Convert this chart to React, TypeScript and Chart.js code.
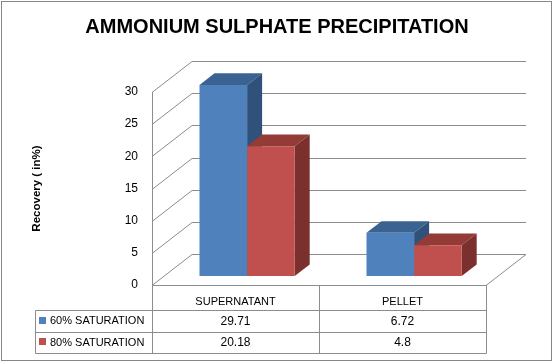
import React, { useEffect, useRef } from 'react';
import { Chart, registerables } from 'chart.js';

Chart.register(...registerables);

// ---- data ----
const categories = ['SUPERNATANT', 'PELLET'];
const seriesNames = ['60% SATURATION', '80% SATURATION'];
const saturation60 = [29.71, 6.72];
const saturation80 = [20.18, 4.8];
const valueLabels60 = ['29.71', '6.72'];
const valueLabels80 = ['20.18', '4.8'];
const yMin = 0;
const yMax = 30;
const yStep = 5;
const chartTitle = 'AMMONIUM SULPHATE PRECIPITATION';
const yAxisTitle = 'Recovery ( in%)';

// ---- style ----
const FRONT = ['#4F81BD', '#C0504D'];
const TOP = ['#3A6392', '#943B38'];
const SIDE = ['#30527A', '#7B302E'];
const GRID = '#8C8C8C';
const FONT = "'Liberation Sans', Arial, sans-serif";
const DX = 40; // depth of the plot (x)
const DY = -31; // depth of the plot (y)
const BAR_OFF = 0.29;
const BAR_DEPTH = 0.375;
const HEADER_H = 25;
const ROW_H = 21.5;
const LEGEND_LEFT = 35;

const threeD = {
  id: 'threeD',
  beforeDraw(chart: any) {
    const { ctx, width, height } = chart;
    ctx.save();
    ctx.fillStyle = '#fff';
    ctx.fillRect(0, 0, width, height);
    ctx.restore();
  },
  beforeDatasetsDraw(chart: any) {
    const { ctx, chartArea, scales } = chart;
    const { left, right, bottom } = chartArea;
    const y = scales.y;
    ctx.save();
    ctx.strokeStyle = GRID;
    ctx.lineWidth = 1;
    y.ticks.forEach((t: any) => {
      const py = Math.round(y.getPixelForValue(t.value)) + 0.5;
      ctx.beginPath();
      ctx.moveTo(left, py);
      ctx.lineTo(left + DX, py + DY);
      ctx.lineTo(right + DX, py + DY);
      ctx.stroke();
    });
    ctx.beginPath();
    ctx.moveTo(right, Math.round(bottom) + 0.5);
    ctx.lineTo(right + DX, Math.round(bottom) + 0.5 + DY);
    ctx.stroke();
    ctx.restore();

    ctx.save();
    ctx.translate(DX * BAR_OFF, DY * BAR_OFF);
    const ddx = DX * BAR_DEPTH;
    const ddy = DY * BAR_DEPTH;
    const metas = chart.data.datasets.map((_: any, i: number) => chart.getDatasetMeta(i));
    for (let c = 0; c < categories.length; c++) {
      metas.forEach((meta: any, d: number) => {
        const el = meta.data[c];
        const l = el.x - el.width / 2;
        const r = el.x + el.width / 2;
        const ty = el.y;
        const base = el.base;
        ctx.fillStyle = TOP[d];
        ctx.beginPath();
        ctx.moveTo(l, ty);
        ctx.lineTo(l + ddx, ty + ddy);
        ctx.lineTo(r + ddx, ty + ddy);
        ctx.lineTo(r, ty);
        ctx.closePath();
        ctx.fill();
        ctx.fillStyle = SIDE[d];
        ctx.beginPath();
        ctx.moveTo(r, ty);
        ctx.lineTo(r + ddx, ty + ddy);
        ctx.lineTo(r + ddx, base + ddy);
        ctx.lineTo(r, base);
        ctx.closePath();
        ctx.fill();
      });
    }
  },
  afterDatasetsDraw(chart: any) {
    chart.ctx.restore();
  },
  afterDraw(chart: any) {
    const { ctx, chartArea, scales } = chart;
    const { left, right, bottom } = chartArea;
    const x = scales.x;
    const r1 = bottom + HEADER_H;
    const rows = [r1, r1 + ROW_H, r1 + 2 * ROW_H];
    const bounds = [left];
    for (let i = 0; i < categories.length - 1; i++) {
      bounds.push((x.getPixelForValue(i) + x.getPixelForValue(i + 1)) / 2);
    }
    bounds.push(right);
    ctx.save();
    ctx.strokeStyle = GRID;
    ctx.lineWidth = 1;
    const P = (v: number) => Math.round(v) + 0.5;
    bounds.forEach((b) => {
      ctx.beginPath();
      ctx.moveTo(P(b), bottom);
      ctx.lineTo(P(b), P(rows[2]));
      ctx.stroke();
    });
    ctx.beginPath();
    ctx.moveTo(P(LEGEND_LEFT), P(rows[0]));
    ctx.lineTo(P(LEGEND_LEFT), P(rows[2]));
    ctx.stroke();
    rows.forEach((ry) => {
      ctx.beginPath();
      ctx.moveTo(P(LEGEND_LEFT), P(ry));
      ctx.lineTo(P(right), P(ry));
      ctx.stroke();
    });
    const values = [valueLabels60, valueLabels80];
    ctx.textBaseline = 'middle';
    ctx.fillStyle = '#000';
    for (let s = 0; s < seriesNames.length; s++) {
      const cy = (rows[s] + rows[s + 1]) / 2;
      ctx.fillStyle = chart.data.datasets[s].backgroundColor;
      ctx.fillRect(LEGEND_LEFT + 4, Math.round(cy) - 4, 7, 7);
      ctx.fillStyle = '#000';
      ctx.textAlign = 'left';
      ctx.font = `11px ${FONT}`;
      ctx.fillText(seriesNames[s], LEGEND_LEFT + 15, cy + 0.5);
      ctx.textAlign = 'center';
      ctx.font = `12px ${FONT}`;
      for (let c = 0; c < categories.length; c++) {
        ctx.fillText(values[s][c], x.getPixelForValue(c), cy + 0.5);
      }
    }
    ctx.strokeStyle = '#868686';
    ctx.strokeRect(1.5, 1.5, 550, 359);
    ctx.restore();
  },
};

export default function App() {
  const ref = useRef<HTMLCanvasElement>(null);
  useEffect(() => {
    document.body.style.margin = '0';
    const chart = new Chart(ref.current as HTMLCanvasElement, {
      type: 'bar',
      data: {
        labels: categories,
        datasets: [
          { label: seriesNames[0], data: saturation60, backgroundColor: FRONT[0], borderWidth: 0, clip: false as any },
          { label: seriesNames[1], data: saturation80, backgroundColor: FRONT[1], borderWidth: 0, clip: false as any },
        ],
      },
      options: {
        responsive: false,
        animation: false,
        devicePixelRatio: 1,
        layout: { padding: { left: 0, right: 0, top: 0, bottom: 0 } },
        datasets: { bar: { categoryPercentage: 0.57, barPercentage: 1 } },
        plugins: {
          legend: { display: false },
          tooltip: { enabled: false },
          title: {
            display: true,
            text: chartTitle,
            color: '#000',
            font: { family: FONT, size: 20, weight: 'bold', lineHeight: 1.2 },
            padding: { top: 15.4, bottom: 52.6 },
          },
        },
        scales: {
          x: {
            grid: { display: false, drawTicks: false },
            border: { display: true, color: GRID, width: 1 },
            ticks: { color: '#000', font: { family: FONT, size: 11 }, padding: 10, maxRotation: 0 },
            afterFit: (s: any) => { s.height = 78; },
          },
          y: {
            min: yMin,
            max: yMax,
            grid: { display: false, drawTicks: false },
            border: { display: true, color: GRID, width: 1 },
            ticks: { stepSize: yStep, color: '#000', font: { family: FONT, size: 12 }, padding: 14 },
            title: {
              display: true,
              text: yAxisTitle,
              color: '#000',
              font: { family: FONT, size: 11.5, weight: 'bold', lineHeight: 1.2 },
              padding: { top: 30, bottom: 0 },
            },
            afterFit: (s: any) => { s.width = 152; },
          },
          right: {
            type: 'linear',
            position: 'right',
            display: true,
            grid: { display: false, drawTicks: false },
            border: { display: false },
            ticks: { display: false },
            afterFit: (s: any) => { s.width = 68; },
          },
        },
      },
      plugins: [threeD],
    });
    return () => chart.destroy();
  }, []);
  return (
    <div style={{ width: 554, height: 363 }}>
      <canvas ref={ref} width={554} height={363} />
    </div>
  );
}
